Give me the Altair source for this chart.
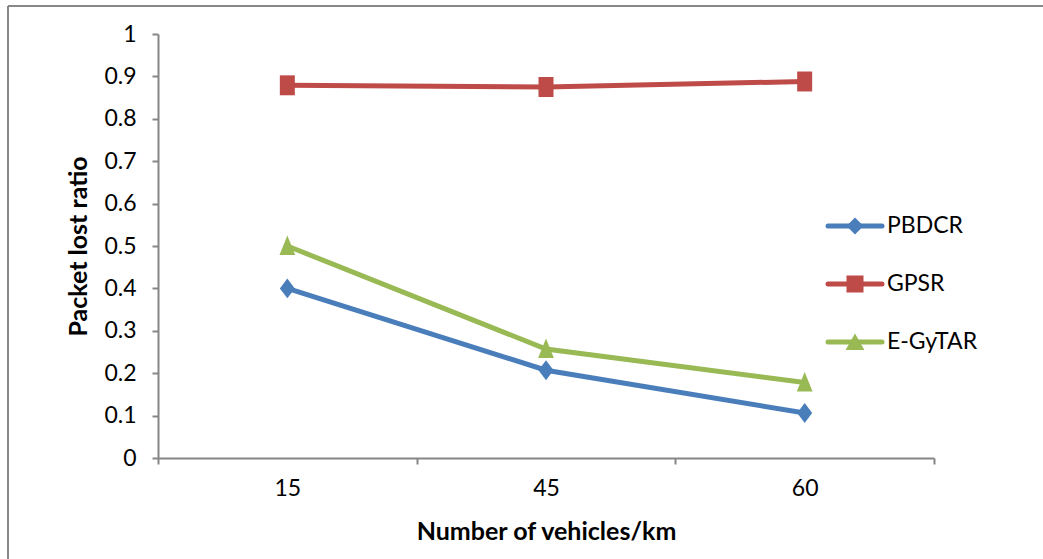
import altair as alt
import pandas as pd

# Packet loss ratio per routing protocol at each vehicle density
densities = ["15", "45", "60"]
series = ["PBDCR", "GPSR", "E-GyTAR"]
pbdcr = [0.40, 0.207, 0.106]
gpsr = [0.879, 0.875, 0.888]
egytar = [0.50, 0.257, 0.178]

colors = ["#4A7EBB", "#BE4B48", "#98B954"]
# Slightly tall markers: diamond, square, triangle (unit-path symbols)
shapes = [
    "M0,-1.33L1,0L0,1.33L-1,0Z",
    "M-1,-1.33L1,-1.33L1,1.33L-1,1.33Z",
    "M0,-1.4L1.05,1.2L-1.05,1.2Z",
]
legend_shapes = [
    "M0,-1L1,0L0,1L-1,0Z",
    "M-1,-1L1,-1L1,1L-1,1Z",
    "M0,-1L1.1,0.95L-1.1,0.95Z",
]

rows = []
for name, vals in zip(series, [pbdcr, gpsr, egytar]):
    for d, v in zip(densities, vals):
        rows.append({"density": d, "series": name, "ratio": v})
df = pd.DataFrame(rows)
legend_df = pd.DataFrame({"series": series})

FONT = "Lato"
AXIS_GREY = "#868686"

color = alt.Color("series:N", scale=alt.Scale(domain=series, range=colors), legend=None)
shape = alt.Shape("series:N", scale=alt.Scale(domain=series, range=shapes), legend=None)

x = alt.X(
    "density:N",
    sort=densities,
    scale=alt.Scale(paddingInner=0, paddingOuter=0, type="band"),
    axis=alt.Axis(
        title="Number of vehicles/km",
        labelAngle=0,
        tickBand="extent",
        domainColor=AXIS_GREY,
        domainWidth=2,
        tickColor=AXIS_GREY,
        tickWidth=2,
        tickSize=6,
        labelPadding=13,
        labelFontSize=23,
        labelFont=FONT,
        labelColor="#000000",
        titleFont=FONT,
        titleFontSize=25,
        titleFontWeight="bold",
        titleColor="#000000",
        titlePadding=19,
        grid=False,
    ),
)
y = alt.Y(
    "ratio:Q",
    scale=alt.Scale(domain=[0, 1], nice=False),
    axis=alt.Axis(
        title="Packet lost ratio",
        values=[i / 10 for i in range(11)],
        format="~g",
        domainColor=AXIS_GREY,
        domainWidth=2,
        tickColor=AXIS_GREY,
        tickWidth=2,
        tickSize=6,
        labelPadding=16,
        labelFontSize=23,
        labelFont=FONT,
        labelColor="#000000",
        titleFont=FONT,
        titleFontSize=25,
        titleFontWeight="bold",
        titleColor="#000000",
        titlePadding=12,
        grid=False,
    ),
)

lines = alt.Chart(df).mark_line(strokeWidth=5).encode(x=x, y=y, color=color, detail="series:N")
points = alt.Chart(df).mark_point(filled=True, opacity=1, size=225).encode(
    x=x, y=y, color=color, shape=shape
)
main = alt.layer(lines, points)

# Hand-built legend: a short line with the marker, followed by the series name
ly = alt.Y("series:N", scale=alt.Scale(domain=series, range=[192, 308], type="point", padding=0), axis=None)
leg_line = alt.Chart(legend_df).mark_rule(strokeWidth=5, strokeCap="round").encode(
    x=alt.value(670), x2=alt.value(724), y=ly, color=color
)
leg_point = alt.Chart(legend_df).mark_point(filled=True, opacity=1, size=290).encode(
    x=alt.value(697),
    y=ly,
    color=color,
    shape=alt.Shape("series:N", scale=alt.Scale(domain=series, range=legend_shapes), legend=None),
)
leg_text = alt.Chart(legend_df).mark_text(
    align="left", baseline="middle", font=FONT, fontSize=23, color="#000000"
).encode(x=alt.value(729), y=ly, text="series:N")
legend = alt.layer(leg_line, leg_point, leg_text).resolve_scale(shape="independent")

# Outer frame lines along the left and top of the chart
frame_left = alt.Chart(legend_df).mark_rule(color=AXIS_GREY, strokeWidth=1.5).encode(
    x=alt.value(-150), y=alt.value(-28), y2=alt.value(600)
)
frame_top = alt.Chart(legend_df).mark_rule(color=AXIS_GREY, strokeWidth=1.5).encode(
    x=alt.value(-150), x2=alt.value(1000), y=alt.value(-28)
)

chart = (
    alt.layer(main, legend, frame_left, frame_top)
    .resolve_scale(y="independent", shape="independent")
    .properties(
        width=776,
        height=424,
        autosize=alt.AutoSizeParams(type="none"),
        padding={"left": 158, "top": 34, "right": 109, "bottom": 101},
        background="#ffffff",
    )
    .configure_view(stroke=None)
)

chart.save("out.html", embed_options={"renderer": "svg", "actions": False})
